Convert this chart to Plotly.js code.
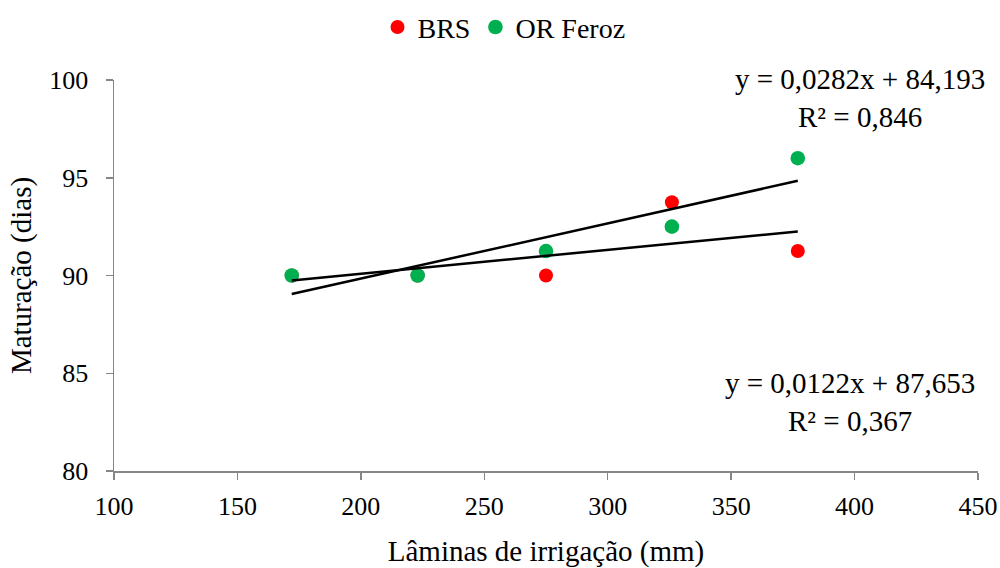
<!DOCTYPE html>
<html>
<head>
<meta charset="utf-8">
<script src="https://cdn.plot.ly/plotly-3.0.1.min.js"></script>
<style>html,body{margin:0;padding:0;background:#fff}#chart{width:1000px;height:568px}</style>
</head>
<body>
<div id="chart"></div>
<script>
// Data
const laminas = [172, 223, 275, 326, 377];
const brs = [90, 90, 90, 93.75, 91.25];
const orFeroz = [90, 90, 91.25, 92.5, 96];
const seriesNames = ["BRS", "OR Feroz"];
const eqBRS = "y = 0,0122x + 87,653<br>R² = 0,367";
const eqOR = "y = 0,0282x + 84,193<br>R² = 0,846";

function linfit(xs, ys) {
  const n = xs.length;
  const mx = xs.reduce((a, b) => a + b, 0) / n;
  const my = ys.reduce((a, b) => a + b, 0) / n;
  let sxy = 0, sxx = 0;
  for (let i = 0; i < n; i++) { sxy += (xs[i] - mx) * (ys[i] - my); sxx += (xs[i] - mx) ** 2; }
  const b = sxy / sxx, a = my - b * mx;
  const x0 = Math.min(...xs), x1 = Math.max(...xs);
  return { x: [x0, x1], y: [a + b * x0, a + b * x1] };
}
const fitBRS = linfit(laminas, brs);
const fitOR = linfit(laminas, orFeroz);

const FONT = "Liberation Serif, Times New Roman, serif";

const traces = [
  { x: laminas, y: brs, name: seriesNames[0], type: "scatter", mode: "markers",
    marker: { color: "#ff0000", size: 14 } },
  { x: laminas, y: orFeroz, name: seriesNames[1], type: "scatter", mode: "markers",
    marker: { color: "#00b050", size: 14.6 } },
  { x: fitBRS.x, y: fitBRS.y, type: "scatter", mode: "lines", showlegend: false,
    line: { color: "#000", width: 2.5 }, hoverinfo: "skip" },
  { x: fitOR.x, y: fitOR.y, type: "scatter", mode: "lines", showlegend: false,
    line: { color: "#000", width: 2.5 }, hoverinfo: "skip" }
];

const axisCommon = {
  showgrid: false, zeroline: false, showline: true, linecolor: "#868686", linewidth: 1.5,
  ticks: "outside", ticklen: 7, tickcolor: "#868686", tickwidth: 1.5,
  tickfont: { family: FONT, size: 26, color: "#000" }
};

const layout = {
  width: 1000, height: 568,
  margin: { l: 114, r: 22, t: 80, b: 97 },
  paper_bgcolor: "#fff", plot_bgcolor: "#fff",
  font: { family: FONT, color: "#000" },
  showlegend: true,
  legend: { orientation: "h", xref: "container", yref: "container", x: 0.504, xanchor: "center",
            y: 0.952, yanchor: "middle", font: { family: FONT, size: 28, color: "#000" },
            itemwidth: 30, tracegroupgap: 0 },
  xaxis: Object.assign({}, axisCommon, { range: [100, 450], dtick: 50, tick0: 100, ticklabelstandoff: 4,
    title: { text: "Lâminas de irrigação (mm)", font: { family: FONT, size: 29, color: "#000" }, standoff: 33 } }),
  yaxis: Object.assign({}, axisCommon, { range: [80, 100], dtick: 5, tick0: 80, ticklabelstandoff: 12,
    title: { text: "Maturação (dias)", font: { family: FONT, size: 29, color: "#000" }, standoff: 9 } }),
  annotations: [
    { xref: "paper", yref: "paper", x: 0.8634, y: 0.9527, text: eqOR, showarrow: false,
      xanchor: "center", yanchor: "middle", align: "center",
      font: { family: FONT, size: 29, color: "#000" } },
    { xref: "paper", yref: "paper", x: 0.852, y: 0.1777, text: eqBRS, showarrow: false,
      xanchor: "center", yanchor: "middle", align: "center",
      font: { family: FONT, size: 29, color: "#000" } }
  ]
};

Plotly.newPlot("chart", traces, layout, { displayModeBar: false, staticPlot: true });
</script>
</body>
</html>
